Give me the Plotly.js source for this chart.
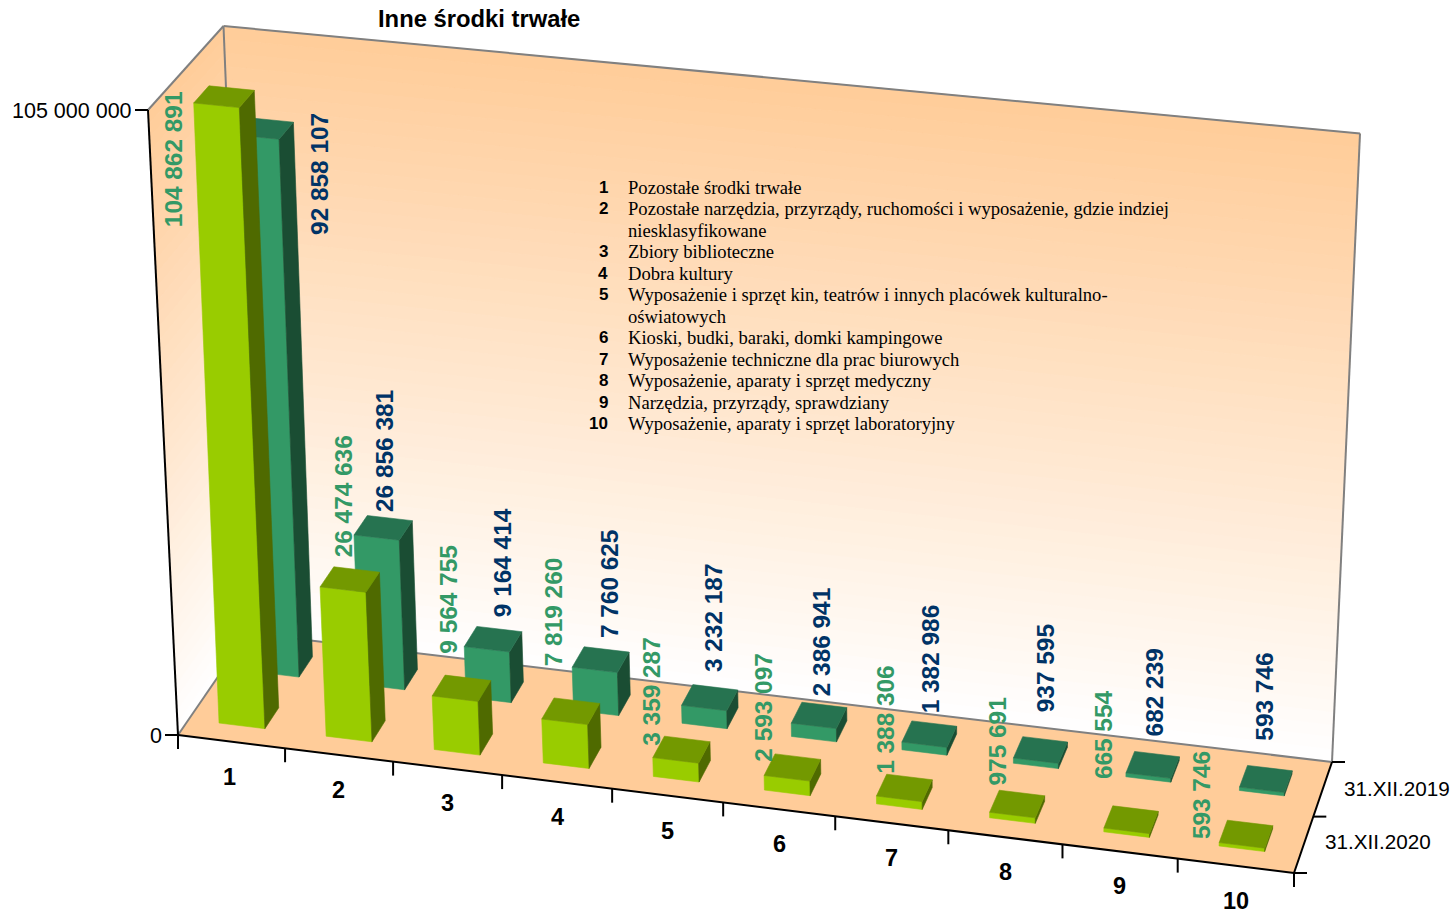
<!DOCTYPE html>
<html><head><meta charset="utf-8">
<script src="https://cdn.plot.ly/plotly-3.0.1.min.js"></script>
<style>html,body{margin:0;padding:0;background:#fff}#chart{width:1452px;height:914px}</style>
</head><body><div id="chart"></div>
<script>
const titleText = "Inne środki trwałe";
const categories = ["1","2","3","4","5","6","7","8","9","10"];
const seriesNames = ["31.XII.2019","31.XII.2020"];
const values2019 = [92858107,26856381,9164414,7760625,3232187,2386941,1382986,937595,682239,593746];
const values2020 = [104862891,26474636,9564755,7819260,3359287,2593097,1388306,975691,665554,593746];
const axisMax = 105000000;
const axisTickLabels = ["105 000 000","0"];
const legendNums = ["1","2","","3","4","5","","6","7","8","9","10"];
const legendLines = ["Pozostałe środki trwałe",
 "Pozostałe narzędzia, przyrządy, ruchomości i wyposażenie, gdzie indziej",
 "niesklasyfikowane","Zbiory biblioteczne","Dobra kultury",
 "Wyposażenie i sprzęt kin, teatrów i innych placówek kulturalno-",
 "oświatowych","Kioski, budki, baraki, domki kampingowe",
 "Wyposażenie techniczne dla prac biurowych","Wyposażenie, aparaty i sprzęt medyczny",
 "Narzędzia, przyrządy, sprawdziany","Wyposażenie, aparaty i sprzęt laboratoryjny"];
// label offsets from the centre of each bar's top face (layout, not data)
const labelDx2019 = [58.5,3,10.5,9,4,2.5,1,5,2,-1];
const labelDy2019 = [109.5,-14.5,-20.5,-20.3,-24.6,-18,-19.6,-37.2,-27.1,-37.1];
const labelDx2020 = [-46.5,-5,-13.5,-17.5,-30,-28.5,-19,-19.5,-28,-45];
const labelDy2020 = [134,-20.5,-33.5,-44.3,-2.6,-5,-12.8,-17.2,-39.1,6];

// perspective box: corners of the floor and of the top plane
const floorQuad = [[178,735],[1294,873],[1332,762],[248,633]];
const topQuad   = [[148,110],[1320,231],[1360,133.5],[223.5,26]];
const heightPerspective = 0.07;
function homography(q){
  const [x0,y0]=q[0],[x1,y1]=q[1],[x2,y2]=q[2],[x3,y3]=q[3];
  const dx1=x1-x2,dx2=x3-x2,sx=x0-x1+x2-x3,dy1=y1-y2,dy2=y3-y2,sy=y0-y1+y2-y3;
  const den=dx1*dy2-dx2*dy1, g=(sx*dy2-dx2*sy)/den, h=(dx1*sy-sx*dy1)/den;
  const a=x1-x0+g*x1,b=x3-x0+h*x3,d=y1-y0+g*y1,e=y3-y0+h*y3;
  return (u,v)=>{const w=g*u+h*v+1;return [(a*u+b*v+x0)/w,(d*u+e*v+y0)/w];};
}
const hF=homography(floorQuad), hT=homography(topQuad);
function P(cat,v,val){ // cat 0..10, v depth 0..1, val in data units
  const u=cat/categories.length,f=hF(u,v),t=hT(u,v),r=val/axisMax,k=r/(1+heightPerspective*(1-r));
  return [f[0]+(t[0]-f[0])*k,f[1]+(t[1]-f[1])*k];
}
function B(cat,v,val){ // bars lean a touch less than the walls
  const p=P(cat,v,val),r=val/axisMax;
  return [p[0]+4*r,p[1]+2*r];
}
const traces=[],ann=[];
function poly(pts,fill,line,lw,txt){
  traces.push({type:'scatter',mode:'lines',x:pts.map(p=>p[0]).concat(pts[0][0]),y:pts.map(p=>p[1]).concat(pts[0][1]),
    fill:'toself',fillcolor:fill,line:{color:line||fill,width:lw===undefined?0.6:lw},
    hoverinfo:txt?'text':'skip',text:txt||undefined,showlegend:false});
}
function seg(a,b,color,w){
  traces.push({type:'scatter',mode:'lines',x:[a[0],b[0]],y:[a[1],b[1]],line:{color:color,width:w},hoverinfo:'skip',showlegend:false});
}
function mix(k){const c=[255,204+51*k,153+102*k].map(Math.round);return `rgb(${c[0]},${c[1]},${c[2]})`;}
// gradient walls, strip by strip so the shading follows the perspective
const strips=48;
for(let i=0;i<strips;i++){
  const z1=axisMax*(1-i/strips), z0=axisMax*(1-(i+1)/strips), col=mix((i+.5)/strips);
  poly([P(0,1,z1),P(10,1,z1),P(10,1,z0),P(0,1,z0)],col,col,1);
  poly([P(0,0,z1),P(0,1,z1),P(0,1,z0),P(0,0,z0)],col,col,1);
}
poly([P(0,0,0),P(10,0,0),P(10,1,0),P(0,1,0)],'#FFCC99','#FFCC99',0);
const gray='#808080';
[[P(0,0,axisMax),P(0,1,axisMax)],[P(0,1,axisMax),P(10,1,axisMax)],[P(10,1,axisMax),P(10,1,0)],
 [P(0,1,axisMax),P(0,1,0)],[P(0,0,0),P(0,1,0)],[P(0,1,0),P(10,1,0)]].forEach(s=>seg(s[0],s[1],gray,2));
const black='#000';
seg(P(0,0,axisMax),P(0,0,0),black,2);
seg(P(0,0,0),P(10,0,0),black,2);
seg(P(10,0,0),P(10,1,0),black,2);
// value-axis ticks
[axisMax,0].forEach((val,i)=>{
  const p=P(0,0,val);
  seg([p[0]-13,p[1]],p,black,2);
  ann.push({x:p[0]-15.5,y:p[1]+1,text:axisTickLabels[i],xanchor:'right',yanchor:'middle',font:{family:'Liberation Sans',size:21.5,color:'#000'}});
});
// category ticks and labels
for(let i=0;i<=10;i++){const p=P(i,0,0);seg(p,[p[0],p[1]+14],black,2);}
categories.forEach((c,i)=>{
  const p=P(i+.5,0,0);
  ann.push({x:p[0]-(i<1?2:0),y:p[1]+35,text:c,xanchor:'center',yanchor:'middle',font:{family:'Liberation Sans',size:23.5,color:'#000',weight:700}});
});
// series ticks and labels
[0,0.5,1].forEach(v=>{const p=P(10,v,0);seg(p,[p[0]+13,p[1]],black,2);});
[[seriesNames[0],.75],[seriesNames[1],.25]].forEach(([s,v],i)=>{
  const p=P(10,v,0);
  ann.push({x:p[0]+20,y:p[1]+12-(i?15:13),text:s,xanchor:'left',yanchor:'middle',font:{family:'Liberation Sans',size:20.7,color:'#000'}});
});
// bars
function bars(vals,v0,v1,cf,cs,ct,lc,dx,dy){
  vals.forEach((val,i)=>{
    const hw=.215-.002*i,a=i+.5-hw,b=i+.5+hw,t=`${categories[i]}: ${val}`;
    poly([B(a,v0,val),B(b,v0,val),B(b,v0,0),B(a,v0,0)],cf,cf,.6,t);
    poly([B(b,v0,val),B(b,v1,val),B(b,v1,0),B(b,v0,0)],cs,cs,.6,t);
    poly([B(a,v0,val),B(a,v1,val),B(b,v1,val),B(b,v0,val)],ct,ct,.6,t);
    const c=B(i+.5,(v0+v1)/2,val);
    ann.push({x:c[0]+dx[i]-4*val/axisMax,y:c[1]+dy[i]-2*val/axisMax,text:String(val).replace(/\B(?=(\d{3})+$)/g,' '),textangle:-90,xanchor:'center',yanchor:'bottom',
      font:{family:'Liberation Sans',size:24.4,color:lc,weight:700}});
  });
}
bars(values2019,.65,.85,'#339966','#1A4D33','#267350','#003366',labelDx2019,labelDy2019);
bars(values2020,.15,.35,'#99CC00','#4F6A00','#739900','#339966',labelDx2020,labelDy2020);
// description block
const legendY0=187.5, legendStep=21.45;
legendLines.forEach((l,i)=>{
  const y=legendY0+i*legendStep;
  if(legendNums[i]) ann.push({x:609,y:y,text:legendNums[i],xanchor:'right',yanchor:'middle',font:{family:'Liberation Sans',size:17,color:'#000',weight:700}});
  ann.push({x:627,y:y,text:l,xanchor:'left',yanchor:'middle',font:{family:'Liberation Serif',size:18.6,color:'#000'}});
});
ann.push({x:377,y:18.5,text:titleText,xanchor:'left',yanchor:'middle',font:{family:'Liberation Sans',size:23.8,color:'#000',weight:700}});
ann.forEach(a=>{a.xref='x';a.yref='y';a.showarrow=false;a.borderpad=0;});
const hidden={visible:false,fixedrange:true};
Plotly.newPlot('chart',traces,{
  width:1452,height:914,margin:{l:0,r:0,t:0,b:0},paper_bgcolor:'#fff',plot_bgcolor:'#fff',showlegend:false,
  xaxis:Object.assign({range:[0,1452]},hidden),yaxis:Object.assign({range:[914,0]},hidden),annotations:ann,hovermode:'closest'
},{displayModeBar:false});
</script></body></html>
